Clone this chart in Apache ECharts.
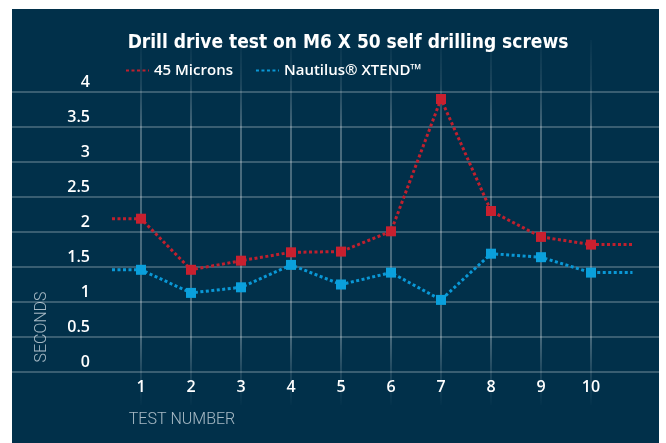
<!DOCTYPE html>
<html>
<head>
<meta charset="utf-8">
<title>Drill drive test</title>
<script src="https://cdn.jsdelivr.net/npm/echarts@6/dist/echarts.min.js"></script>
<style>
  html, body { margin: 0; padding: 0; background: #ffffff; }
  #panel { position: absolute; left: 12px; top: 9px; width: 647px; height: 434px; background: #01304a; }
</style>
</head>
<body>
<div id="panel"></div>
<script>
// test numbers and drive times (seconds)
var tests = [1, 2, 3, 4, 5, 6, 7, 8, 9, 10];
var microns = [2.19, 1.46, 1.59, 1.71, 1.72, 2.01, 3.9, 2.30, 1.93, 1.82];
var nautilus = [1.46, 1.13, 1.21, 1.53, 1.25, 1.42, 1.03, 1.69, 1.64, 1.42];
var yTicks = [0, 0.5, 1, 1.5, 2, 2.5, 3, 3.5, 4];

// the lines run a bit past the first and last test
var leadX = 0.42, tailX = 10.83;

function buildLine(vals) {
  var pts = [{ value: [leadX, vals[0]], symbol: 'none' }];
  for (var i = 0; i < tests.length; i++) pts.push([tests[i], vals[i]]);
  pts.push({ value: [tailX, vals[vals.length - 1]], symbol: 'none' });
  return pts;
}

var chart = echarts.init(document.getElementById('panel'));

var labelFont = '"Open Sans", "DejaVu Sans", sans-serif';

var option = {
  backgroundColor: 'transparent',
  animation: false,
  title: {
    text: 'Drill drive test on M6 X 50 self drilling screws',
    left: 331,
    textAlign: 'center',
    top: 20,
    textStyle: {
      color: '#ffffff',
      fontSize: 19,
      fontWeight: 'bold',
      fontFamily: '"Liberation Sans Narrow", "DejaVu Sans Condensed", sans-serif'
    }
  },
  legend: {
    left: 108,
    top: 49,
    itemWidth: 23,
    itemHeight: 14,
    itemGap: 22,
    itemStyle: { opacity: 0 },
    textStyle: { color: '#ffffff', fontSize: 15, fontWeight: 600, fontFamily: labelFont },
    data: ['45 Microns', 'Nautilus® XTEND™']
  },
  grid: [
    { left: 79, right: 18, top: 83, bottom: 71 },
    { left: 0, right: 0, top: 83, bottom: 71 },
    { left: 129, right: 68, top: 31, bottom: 38 }
  ],
  xAxis: [
    {
      type: 'value', gridIndex: 0, min: 0, max: 11, interval: 1,
      axisLine: { show: false }, axisTick: { show: false }, splitLine: { show: false },
      axisLabel: {
        margin: 7,
        color: '#ffffff', fontSize: 16, fontWeight: 600, fontFamily: labelFont,
        formatter: function (v) { return tests.indexOf(v) >= 0 ? String(v) : ''; }
      }
    },
    { type: 'value', gridIndex: 1, min: 0, max: 1, show: false },
    {
      type: 'value', gridIndex: 2, min: tests[0], max: tests[tests.length - 1], interval: 1,
      axisLine: { show: false }, axisTick: { show: false }, axisLabel: { show: false },
      splitLine: {
        show: true,
        lineStyle: {
          width: 1.5,
          color: new echarts.graphic.LinearGradient(0, 31, 0, 400, [
            { offset: 0, color: 'rgba(255,255,255,0.03)' },
            { offset: 0.12, color: 'rgba(255,255,255,0.14)' },
            { offset: 0.25, color: 'rgba(255,255,255,0.38)' },
            { offset: 0.8, color: 'rgba(255,255,255,0.38)' },
            { offset: 0.9, color: 'rgba(255,255,255,0.15)' },
            { offset: 1, color: 'rgba(255,255,255,0)' }
          ], true)
        }
      }
    }
  ],
  yAxis: [
    {
      type: 'value', gridIndex: 0, min: yTicks[0], max: yTicks[yTicks.length - 1], interval: 0.5,
      axisLine: { show: false }, axisTick: { show: false }, splitLine: { show: false },
      axisLabel: {
        margin: 1,
        verticalAlign: 'bottom',
        lineHeight: 19,
        color: '#ffffff', fontSize: 16, fontWeight: 600, fontFamily: labelFont
      }
    },
    {
      type: 'value', gridIndex: 1, min: yTicks[0], max: yTicks[yTicks.length - 1], interval: 0.5,
      axisLine: { show: false }, axisTick: { show: false }, axisLabel: { show: false },
      splitLine: { show: true, lineStyle: { color: 'rgba(255,255,255,0.3)', width: 1.5 } }
    },
    { type: 'value', gridIndex: 2, min: 0, max: 1, show: false }
  ],
  graphic: [
    {
      type: 'text', x: 30, y: 318, rotation: Math.PI / 2,
      style: {
        text: 'SECONDS', fill: 'rgba(220,230,236,0.75)', fontSize: 16, fontWeight: 300,
        fontFamily: 'Roboto, "DejaVu Sans", sans-serif', align: 'center', verticalAlign: 'middle'
      }
    },
    {
      type: 'text', x: 170, y: 411,
      style: {
        text: 'TEST NUMBER', fill: 'rgba(220,230,236,0.75)', fontSize: 16, fontWeight: 300,
        fontFamily: 'Roboto, "DejaVu Sans", sans-serif', align: 'center', verticalAlign: 'middle'
      }
    }
  ],
  series: [
    {
      name: '45 Microns', type: 'line', xAxisIndex: 0, yAxisIndex: 0,
      data: buildLine(microns),
      symbol: 'rect', symbolSize: 10,
      itemStyle: { color: '#c8202f' },
      lineStyle: { color: '#c0202e', width: 3, type: [3, 2.5] },
      z: 3
    },
    {
      name: 'Nautilus® XTEND™', type: 'line', xAxisIndex: 0, yAxisIndex: 0,
      data: buildLine(nautilus),
      symbol: 'rect', symbolSize: 10,
      itemStyle: { color: '#0aa0dc' },
      lineStyle: { color: '#0a98d6', width: 3, type: [3, 2.5] },
      z: 2
    }
  ]
};

chart.setOption(option);
</script>
</body>
</html>
